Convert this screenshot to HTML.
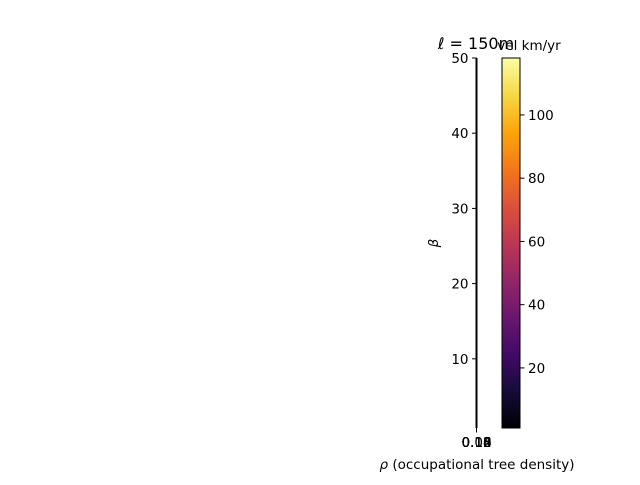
<!DOCTYPE html>
<html><head><meta charset="utf-8"><style>
html,body{margin:0;padding:0;background:#fff;}
svg text{font-family:"DejaVu Sans","Liberation Sans",sans-serif;fill:#000;}
</style></head><body>
<svg id="chart" width="640" height="480" xmlns="http://www.w3.org/2000/svg">
<defs>
<linearGradient id="inferno" x1="0" y1="1" x2="0" y2="0">
<stop offset="0" stop-color="#000004"/>
<stop offset="0.1" stop-color="#160b39"/>
<stop offset="0.2" stop-color="#420a68"/>
<stop offset="0.3" stop-color="#6a176e"/>
<stop offset="0.4" stop-color="#932667"/>
<stop offset="0.5" stop-color="#bc3754"/>
<stop offset="0.6" stop-color="#dd513a"/>
<stop offset="0.7" stop-color="#f37819"/>
<stop offset="0.8" stop-color="#fca50a"/>
<stop offset="0.9" stop-color="#f6d746"/>
<stop offset="1" stop-color="#fcffa4"/>
</linearGradient>
</defs>
<g id="axes"></g>
<g id="cbar"></g>
<text x="476" y="49" font-size="16" text-anchor="middle"><tspan font-style="italic">ℓ</tspan> = 150m</text>
<text x="529" y="50" font-size="13.5" text-anchor="middle">vel km/yr</text>
<text x="477" y="469" font-size="13.5" text-anchor="middle"><tspan font-style="italic">ρ</tspan> (occupational tree density)</text>
<text x="0" y="0" font-size="13.5" font-style="italic" text-anchor="middle" transform="translate(438,243) rotate(-90)">β</text>
</svg>
<script>
const yTicks=[10,20,30,40,50];
const yDomain=[0.8,50];
const xTickLabels=["0.08","0.10","0.12","0.14","0.16","0.18"];
const cbTicks=[20,40,60,80,100];
const cbDomain=[1,118];

const NS="http://www.w3.org/2000/svg";
const plotTop=58,plotBot=428,axX=476.5,cbL=502,cbR=520;
function yScale(v){return plotBot-(v-yDomain[0])/(yDomain[1]-yDomain[0])*(plotBot-plotTop);}
function cScale(v){return plotBot-(v-cbDomain[0])/(cbDomain[1]-cbDomain[0])*(plotBot-plotTop);}
function mk(tag,attrs,parent){const e=document.createElementNS(NS,tag);for(const k in attrs)e.setAttribute(k,attrs[k]);parent.appendChild(e);return e;}
const ax=document.getElementById('axes');
const spine=mk('line',{x1:axX,x2:axX,y1:plotTop,y2:plotBot,stroke:'#000','stroke-width':2},ax);


yTicks.forEach(v=>{
 const y=yScale(v);
 const t=mk('line',{x1:axX-4.5,x2:axX,y1:y,y2:y,stroke:'#000','stroke-width':1},ax);
 
 
 const l=mk('text',{x:axX-8,y:y+5,'font-size':13.5,'text-anchor':'end'},ax);
 
 
 l.textContent=v;
});
xTickLabels.forEach(s=>{
 const t=mk('line',{x1:axX,x2:axX,y1:plotBot,y2:plotBot+4.5,stroke:'#000','stroke-width':1},ax);
 
 
 const l=mk('text',{x:axX,y:plotBot+19,'font-size':13.5,'text-anchor':'middle'},ax);
 
 
 l.textContent=s;
});
const cb=document.getElementById('cbar');
const r=mk('rect',{x:cbL,y:plotTop,width:cbR-cbL,height:plotBot-plotTop,fill:'url(#inferno)',stroke:'#000','stroke-width':1},cb);


cbTicks.forEach(v=>{
 const y=cScale(v);
 const t=mk('line',{x1:cbR,x2:cbR+4.5,y1:y,y2:y,stroke:'#000','stroke-width':1},cb);
 
 
 const l=mk('text',{x:cbR+8,y:y+5,'font-size':13.5},cb);
 
 
 l.textContent=v;
});
</script>
</body></html>
